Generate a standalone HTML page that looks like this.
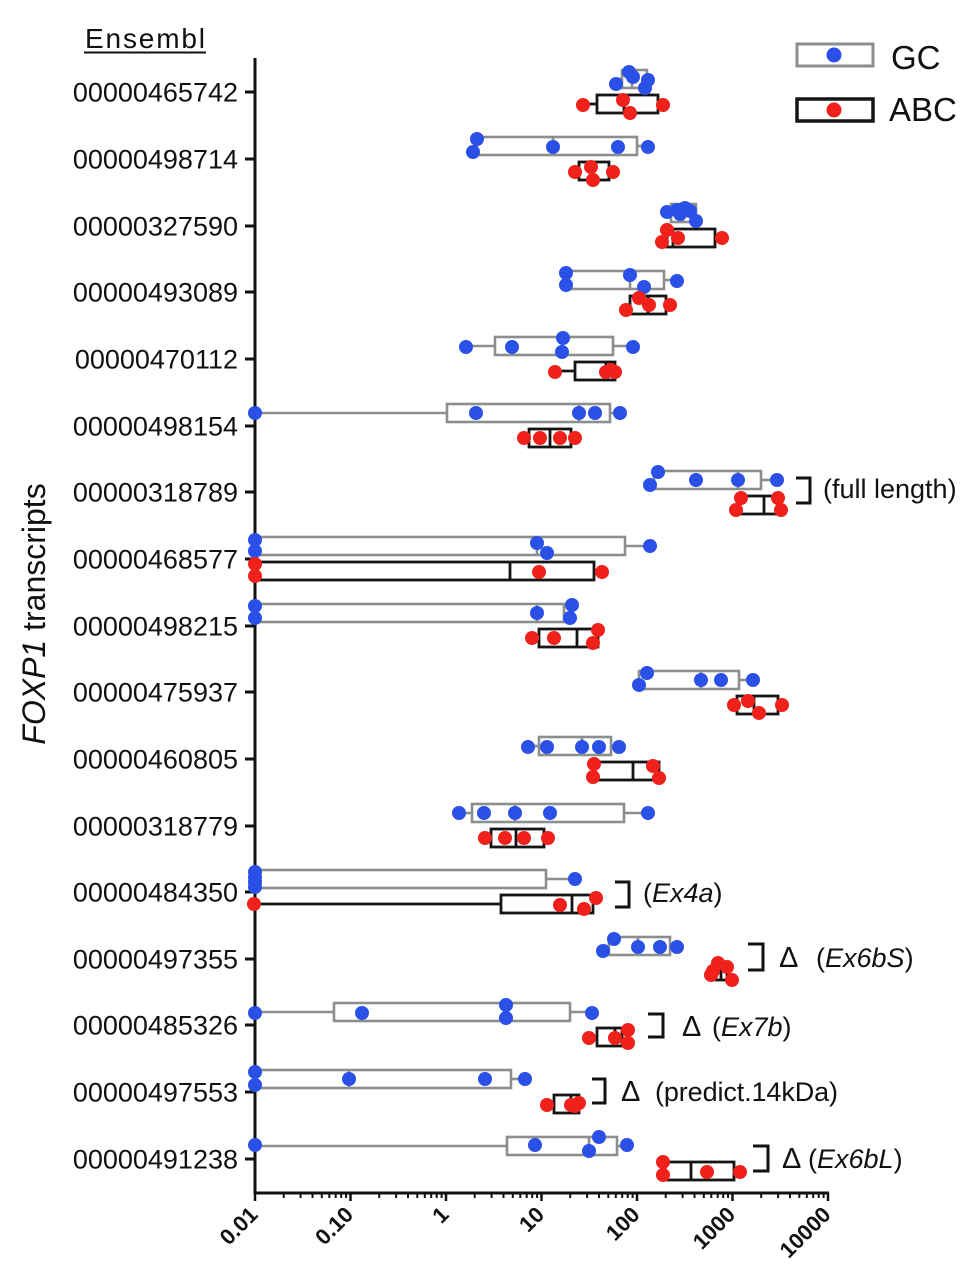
<!DOCTYPE html>
<html><head><meta charset="utf-8"><style>
html,body{margin:0;padding:0;background:#fff;}
svg{display:block;}
text{font-family:"Liberation Sans",Arial,sans-serif;}
</style></head><body>
<svg width="974" height="1280" viewBox="0 0 974 1280" xmlns="http://www.w3.org/2000/svg">
<rect width="974" height="1280" fill="#fff"/>

<!-- header -->
<text x="145" y="48" font-size="28" text-anchor="middle" textLength="120" fill="#111">Ensembl</text>
<line x1="84" y1="52.5" x2="206" y2="52.5" stroke="#111" stroke-width="2"/>

<!-- y title -->
<text transform="translate(45,614) rotate(-90)" font-size="32" text-anchor="middle" fill="#111"><tspan font-style="italic">FOXP1</tspan> transcripts</text>

<!-- axes -->
<g stroke="#111" stroke-width="3" fill="none">
<line x1="255" y1="58" x2="255" y2="1194"/>
<line x1="254" y1="1193" x2="829" y2="1193"/>
</g>

<!-- x ticks -->
<g stroke="#111" stroke-width="2.5">
<line x1="255" y1="1193" x2="255" y2="1201"/>
<line x1="350.5" y1="1193" x2="350.5" y2="1201"/>
<line x1="446" y1="1193" x2="446" y2="1201"/>
<line x1="541.5" y1="1193" x2="541.5" y2="1201"/>
<line x1="637" y1="1193" x2="637" y2="1201"/>
<line x1="732.5" y1="1193" x2="732.5" y2="1201"/>
<line x1="828" y1="1193" x2="828" y2="1201"/>
</g>
<g stroke="#111" stroke-width="2">
<line x1="283.7" y1="1193" x2="283.7" y2="1198"/><line x1="300.6" y1="1193" x2="300.6" y2="1198"/><line x1="312.5" y1="1193" x2="312.5" y2="1198"/><line x1="321.8" y1="1193" x2="321.8" y2="1198"/><line x1="329.3" y1="1193" x2="329.3" y2="1198"/><line x1="335.7" y1="1193" x2="335.7" y2="1198"/><line x1="341.2" y1="1193" x2="341.2" y2="1198"/><line x1="346.1" y1="1193" x2="346.1" y2="1198"/>
<line x1="379.2" y1="1193" x2="379.2" y2="1198"/><line x1="396.1" y1="1193" x2="396.1" y2="1198"/><line x1="408" y1="1193" x2="408" y2="1198"/><line x1="417.3" y1="1193" x2="417.3" y2="1198"/><line x1="424.8" y1="1193" x2="424.8" y2="1198"/><line x1="431.2" y1="1193" x2="431.2" y2="1198"/><line x1="436.7" y1="1193" x2="436.7" y2="1198"/><line x1="441.6" y1="1193" x2="441.6" y2="1198"/>
<line x1="474.7" y1="1193" x2="474.7" y2="1198"/><line x1="491.6" y1="1193" x2="491.6" y2="1198"/><line x1="503.5" y1="1193" x2="503.5" y2="1198"/><line x1="512.8" y1="1193" x2="512.8" y2="1198"/><line x1="520.3" y1="1193" x2="520.3" y2="1198"/><line x1="526.7" y1="1193" x2="526.7" y2="1198"/><line x1="532.2" y1="1193" x2="532.2" y2="1198"/><line x1="537.1" y1="1193" x2="537.1" y2="1198"/>
<line x1="570.2" y1="1193" x2="570.2" y2="1198"/><line x1="587.1" y1="1193" x2="587.1" y2="1198"/><line x1="599" y1="1193" x2="599" y2="1198"/><line x1="608.3" y1="1193" x2="608.3" y2="1198"/><line x1="615.8" y1="1193" x2="615.8" y2="1198"/><line x1="622.2" y1="1193" x2="622.2" y2="1198"/><line x1="627.7" y1="1193" x2="627.7" y2="1198"/><line x1="632.6" y1="1193" x2="632.6" y2="1198"/>
<line x1="665.7" y1="1193" x2="665.7" y2="1198"/><line x1="682.6" y1="1193" x2="682.6" y2="1198"/><line x1="694.5" y1="1193" x2="694.5" y2="1198"/><line x1="703.8" y1="1193" x2="703.8" y2="1198"/><line x1="711.3" y1="1193" x2="711.3" y2="1198"/><line x1="717.7" y1="1193" x2="717.7" y2="1198"/><line x1="723.2" y1="1193" x2="723.2" y2="1198"/><line x1="728.1" y1="1193" x2="728.1" y2="1198"/>
<line x1="761.2" y1="1193" x2="761.2" y2="1198"/><line x1="778.1" y1="1193" x2="778.1" y2="1198"/><line x1="790" y1="1193" x2="790" y2="1198"/><line x1="799.3" y1="1193" x2="799.3" y2="1198"/><line x1="806.8" y1="1193" x2="806.8" y2="1198"/><line x1="813.2" y1="1193" x2="813.2" y2="1198"/><line x1="818.7" y1="1193" x2="818.7" y2="1198"/><line x1="823.6" y1="1193" x2="823.6" y2="1198"/>
</g>

<!-- x tick labels -->
<g font-size="22" font-weight="bold" fill="#111" text-anchor="end">
<text transform="translate(259,1216) rotate(-45)">0.01</text>
<text transform="translate(354.5,1216) rotate(-45)">0.10</text>
<text transform="translate(450,1216) rotate(-45)">1</text>
<text transform="translate(545.5,1216) rotate(-45)">10</text>
<text transform="translate(641,1216) rotate(-45)">100</text>
<text transform="translate(736.5,1216) rotate(-45)">1000</text>
<text transform="translate(832,1216) rotate(-45)">10000</text>
</g>

<!-- y ticks and labels -->
<g stroke="#111" stroke-width="3">
<line x1="245" y1="92" x2="255" y2="92"/><line x1="245" y1="159" x2="255" y2="159"/><line x1="245" y1="226" x2="255" y2="226"/><line x1="245" y1="292" x2="255" y2="292"/><line x1="245" y1="359" x2="255" y2="359"/><line x1="245" y1="426" x2="255" y2="426"/><line x1="245" y1="492" x2="255" y2="492"/><line x1="245" y1="559" x2="255" y2="559"/><line x1="245" y1="626" x2="255" y2="626"/><line x1="245" y1="692" x2="255" y2="692"/><line x1="245" y1="759" x2="255" y2="759"/><line x1="245" y1="826" x2="255" y2="826"/><line x1="245" y1="892" x2="255" y2="892"/><line x1="245" y1="959" x2="255" y2="959"/><line x1="245" y1="1025" x2="255" y2="1025"/><line x1="245" y1="1092" x2="255" y2="1092"/><line x1="245" y1="1159" x2="255" y2="1159"/>
</g>
<g font-size="27" fill="#111" text-anchor="end">
<text x="238" y="101.5">00000465742</text>
<text x="238" y="168.5">00000498714</text>
<text x="238" y="235.5">00000327590</text>
<text x="238" y="301.5">00000493089</text>
<text x="238" y="368.5">00000470112</text>
<text x="238" y="435.5">00000498154</text>
<text x="238" y="501.5">00000318789</text>
<text x="238" y="568.5">00000468577</text>
<text x="238" y="635.5">00000498215</text>
<text x="238" y="701.5">00000475937</text>
<text x="238" y="768.5">00000460805</text>
<text x="238" y="835.5">00000318779</text>
<text x="238" y="901.5">00000484350</text>
<text x="238" y="968.5">00000497355</text>
<text x="238" y="1034.5">00000485326</text>
<text x="238" y="1101.5">00000497553</text>
<text x="238" y="1168.5">00000491238</text>
</g>

<!-- GC boxes (gray) -->
<g stroke="#8a8e8e" stroke-width="2.6" fill="none">
<rect x="622" y="70" width="25" height="18"/><line x1="632" y1="70" x2="632" y2="88"/><line x1="616" y1="79" x2="622" y2="79"/>
<rect x="477" y="137" width="160" height="18"/><line x1="553" y1="137" x2="553" y2="155"/><line x1="637" y1="146" x2="648" y2="146"/>
<rect x="671" y="204" width="25" height="18"/><line x1="683" y1="204" x2="683" y2="222"/><line x1="667" y1="213" x2="671" y2="213"/>
<rect x="566" y="271" width="98" height="18"/><line x1="630" y1="271" x2="630" y2="289"/><line x1="664" y1="280" x2="677" y2="280"/>
<rect x="495" y="337" width="118" height="18"/><line x1="562" y1="337" x2="562" y2="355"/><line x1="466" y1="346" x2="495" y2="346"/><line x1="613" y1="346" x2="633" y2="346"/>
<rect x="447" y="404" width="163" height="18"/><line x1="579" y1="404" x2="579" y2="422"/><line x1="255" y1="413" x2="447" y2="413"/><line x1="610" y1="413" x2="620" y2="413"/>
<rect x="654" y="471" width="107" height="18"/><line x1="738" y1="471" x2="738" y2="489"/><line x1="650" y1="480" x2="654" y2="480"/><line x1="761" y1="480" x2="777" y2="480"/>
<rect x="255" y="537" width="370" height="18"/><line x1="537" y1="537" x2="537" y2="555"/><line x1="625" y1="546" x2="650" y2="546"/>
<rect x="255" y="604" width="309" height="18"/><line x1="537" y1="604" x2="537" y2="622"/><line x1="564" y1="613" x2="572" y2="613"/>
<rect x="639" y="671" width="100" height="18"/><line x1="701" y1="671" x2="701" y2="689"/><line x1="739" y1="680" x2="753" y2="680"/>
<rect x="539" y="737" width="72" height="18"/><line x1="582" y1="737" x2="582" y2="755"/><line x1="528" y1="746" x2="539" y2="746"/><line x1="611" y1="746" x2="619" y2="746"/>
<rect x="472" y="804" width="152" height="18"/><line x1="515" y1="804" x2="515" y2="822"/><line x1="459" y1="813" x2="472" y2="813"/><line x1="624" y1="813" x2="648" y2="813"/>
<rect x="255" y="870" width="291" height="18"/><line x1="546" y1="879" x2="575" y2="879"/>
<rect x="609" y="937" width="61" height="18"/><line x1="638" y1="937" x2="638" y2="955"/><line x1="603" y1="946" x2="609" y2="946"/><line x1="670" y1="946" x2="677" y2="946"/>
<rect x="334" y="1003" width="236" height="18"/><line x1="506" y1="1003" x2="506" y2="1021"/><line x1="255" y1="1012" x2="334" y2="1012"/><line x1="570" y1="1012" x2="592" y2="1012"/>
<rect x="255" y="1070" width="256" height="18"/><line x1="349" y1="1070" x2="349" y2="1088"/><line x1="511" y1="1079" x2="525" y2="1079"/>
<rect x="507" y="1137" width="110" height="18"/><line x1="589" y1="1137" x2="589" y2="1155"/><line x1="255" y1="1146" x2="507" y2="1146"/><line x1="617" y1="1146" x2="627" y2="1146"/>
</g>

<!-- ABC boxes (black) -->
<g stroke="#151515" stroke-width="2.8" fill="none">
<rect x="597" y="95" width="61" height="18"/><line x1="624" y1="95" x2="624" y2="113"/><line x1="583" y1="104" x2="597" y2="104"/><line x1="658" y1="104" x2="663" y2="104"/>
<rect x="579" y="162" width="30" height="18"/><line x1="592" y1="162" x2="592" y2="180"/>
<rect x="667" y="229" width="48" height="18"/><line x1="673" y1="229" x2="673" y2="247"/><line x1="715" y1="238" x2="722" y2="238"/>
<rect x="630" y="296" width="36" height="18"/><line x1="648" y1="296" x2="648" y2="314"/>
<rect x="575" y="362" width="40" height="18"/><line x1="606" y1="362" x2="606" y2="380"/><line x1="555" y1="371" x2="575" y2="371"/>
<rect x="529" y="429" width="42" height="18"/><line x1="550" y1="429" x2="550" y2="447"/>
<rect x="740" y="496" width="40" height="18"/><line x1="764" y1="496" x2="764" y2="514"/>
<rect x="255" y="562" width="339" height="18"/><line x1="510" y1="562" x2="510" y2="580"/><line x1="594" y1="571" x2="602" y2="571"/>
<rect x="539" y="629" width="59" height="18"/><line x1="577" y1="629" x2="577" y2="647"/><line x1="532" y1="638" x2="539" y2="638"/>
<rect x="737" y="696" width="41" height="18"/><line x1="754" y1="696" x2="754" y2="714"/>
<rect x="595" y="762" width="64" height="18"/><line x1="633" y1="762" x2="633" y2="780"/>
<rect x="491" y="829" width="53" height="18"/><line x1="516" y1="829" x2="516" y2="847"/>
<rect x="501" y="895" width="92" height="18"/><line x1="572" y1="895" x2="572" y2="913"/><line x1="255" y1="904" x2="501" y2="904"/>
<rect x="716" y="962" width="11" height="18"/><line x1="721" y1="962" x2="721" y2="980"/>
<rect x="597" y="1028" width="25" height="18"/><line x1="615" y1="1028" x2="615" y2="1046"/><line x1="589" y1="1037" x2="597" y2="1037"/>
<rect x="554" y="1095" width="25" height="18"/><line x1="571" y1="1095" x2="571" y2="1113"/>
<rect x="665" y="1162" width="69" height="18"/><line x1="691" y1="1162" x2="691" y2="1180"/><line x1="734" y1="1171" x2="740" y2="1171"/>
</g>

<!-- GC dots -->
<g fill="#2b50e8">
<circle cx="616" cy="84" r="7"/><circle cx="629" cy="72" r="7"/><circle cx="633" cy="77" r="7"/><circle cx="648" cy="80" r="7"/><circle cx="645" cy="88" r="7"/>
<circle cx="477" cy="139" r="7"/><circle cx="473" cy="152" r="7"/><circle cx="553" cy="147" r="7"/><circle cx="618" cy="147" r="7"/><circle cx="648" cy="147" r="7"/>
<circle cx="667" cy="212" r="7"/><circle cx="677" cy="210" r="7"/><circle cx="685" cy="208" r="7"/><circle cx="690" cy="211" r="7"/><circle cx="696" cy="221" r="7"/><circle cx="680" cy="214" r="7"/>
<circle cx="566" cy="273" r="7"/><circle cx="566" cy="285" r="7"/><circle cx="630" cy="275" r="7"/><circle cx="644" cy="287" r="7"/><circle cx="677" cy="281" r="7"/>
<circle cx="466" cy="347" r="7"/><circle cx="512" cy="347" r="7"/><circle cx="563" cy="338" r="7"/><circle cx="562" cy="352" r="7"/><circle cx="633" cy="347" r="7"/>
<circle cx="255" cy="413" r="7"/><circle cx="476" cy="413" r="7"/><circle cx="579" cy="413" r="7"/><circle cx="595" cy="413" r="7"/><circle cx="620" cy="413" r="7"/>
<circle cx="658" cy="472" r="7"/><circle cx="650" cy="485" r="7"/><circle cx="696" cy="480" r="7"/><circle cx="738" cy="480" r="7"/><circle cx="777" cy="480" r="7"/>
<circle cx="255" cy="540" r="7"/><circle cx="255" cy="551" r="7"/><circle cx="537" cy="543" r="7"/><circle cx="547" cy="553" r="7"/><circle cx="650" cy="546" r="7"/>
<circle cx="255" cy="606" r="7"/><circle cx="255" cy="618" r="7"/><circle cx="537" cy="613" r="7"/><circle cx="572" cy="605" r="7"/><circle cx="570" cy="618" r="7"/>
<circle cx="647" cy="673" r="7"/><circle cx="639" cy="685" r="7"/><circle cx="701" cy="680" r="7"/><circle cx="721" cy="680" r="7"/><circle cx="753" cy="680" r="7"/>
<circle cx="528" cy="747" r="7"/><circle cx="547" cy="747" r="7"/><circle cx="582" cy="747" r="7"/><circle cx="599" cy="747" r="7"/><circle cx="619" cy="747" r="7"/>
<circle cx="459" cy="813" r="7"/><circle cx="484" cy="813" r="7"/><circle cx="515" cy="813" r="7"/><circle cx="550" cy="813" r="7"/><circle cx="648" cy="813" r="7"/>
<circle cx="255" cy="872" r="7"/><circle cx="255" cy="877" r="7"/><circle cx="255" cy="882" r="7"/><circle cx="255" cy="887" r="7"/><circle cx="575" cy="879" r="7"/>
<circle cx="614" cy="939" r="7"/><circle cx="603" cy="951" r="7"/><circle cx="638" cy="947" r="7"/><circle cx="660" cy="947" r="7"/><circle cx="677" cy="947" r="7"/>
<circle cx="255" cy="1013" r="7"/><circle cx="362" cy="1013" r="7"/><circle cx="506" cy="1005" r="7"/><circle cx="506" cy="1018" r="7"/><circle cx="592" cy="1013" r="7"/>
<circle cx="255" cy="1072" r="7"/><circle cx="255" cy="1085" r="7"/><circle cx="349" cy="1079" r="7"/><circle cx="485" cy="1079" r="7"/><circle cx="525" cy="1079" r="7"/>
<circle cx="255" cy="1145" r="7"/><circle cx="535" cy="1145" r="7"/><circle cx="599" cy="1137" r="7"/><circle cx="589" cy="1151" r="7"/><circle cx="627" cy="1145" r="7"/>
</g>

<!-- ABC dots -->
<g fill="#f0201a">
<circle cx="583" cy="105" r="7"/><circle cx="623" cy="100" r="7"/><circle cx="630" cy="113" r="7"/><circle cx="663" cy="105" r="7"/>
<circle cx="575" cy="172" r="7"/><circle cx="591" cy="167" r="7"/><circle cx="593" cy="180" r="7"/><circle cx="613" cy="172" r="7"/>
<circle cx="667" cy="230" r="7"/><circle cx="662" cy="242" r="7"/><circle cx="678" cy="238" r="7"/><circle cx="722" cy="238" r="7"/>
<circle cx="639" cy="298" r="7"/><circle cx="626" cy="310" r="7"/><circle cx="649" cy="305" r="7"/><circle cx="670" cy="305" r="7"/>
<circle cx="555" cy="372" r="7"/><circle cx="606" cy="372" r="7"/><circle cx="611" cy="370" r="7"/><circle cx="615" cy="372" r="7"/>
<circle cx="524" cy="438" r="7"/><circle cx="540" cy="438" r="7"/><circle cx="560" cy="438" r="7"/><circle cx="575" cy="438" r="7"/>
<circle cx="741" cy="498" r="7"/><circle cx="736" cy="510" r="7"/><circle cx="778" cy="498" r="7"/><circle cx="781" cy="510" r="7"/>
<circle cx="255" cy="564" r="7"/><circle cx="255" cy="576" r="7"/><circle cx="539" cy="572" r="7"/><circle cx="602" cy="572" r="7"/>
<circle cx="532" cy="638" r="7"/><circle cx="554" cy="638" r="7"/><circle cx="598" cy="630" r="7"/><circle cx="593" cy="643" r="7"/>
<circle cx="734" cy="705" r="7"/><circle cx="748" cy="701" r="7"/><circle cx="759" cy="713" r="7"/><circle cx="782" cy="705" r="7"/>
<circle cx="594" cy="764" r="7"/><circle cx="593" cy="777" r="7"/><circle cx="653" cy="766" r="7"/><circle cx="659" cy="778" r="7"/>
<circle cx="485" cy="838" r="7"/><circle cx="505" cy="838" r="7"/><circle cx="524" cy="838" r="7"/><circle cx="548" cy="838" r="7"/>
<circle cx="254" cy="904" r="7"/><circle cx="560" cy="905" r="7"/><circle cx="584" cy="909" r="7"/><circle cx="596" cy="898" r="7"/>
<circle cx="711" cy="975" r="7"/><circle cx="718" cy="963" r="7"/><circle cx="727" cy="967" r="7"/><circle cx="732" cy="980" r="7"/><circle cx="713" cy="971" r="7"/>
<circle cx="589" cy="1038" r="7"/><circle cx="615" cy="1038" r="7"/><circle cx="628" cy="1030" r="7"/><circle cx="628" cy="1043" r="7"/>
<circle cx="547" cy="1105" r="7"/><circle cx="571" cy="1105" r="7"/><circle cx="579" cy="1103" r="7"/><circle cx="575" cy="1106" r="7"/>
<circle cx="663" cy="1162" r="7"/><circle cx="663" cy="1175" r="7"/><circle cx="707" cy="1172" r="7"/><circle cx="740" cy="1172" r="7"/>
</g>

<!-- brackets -->
<g stroke="#111" stroke-width="3" fill="none">
<polyline points="796,478 810,478 810,503 796,503"/>
<polyline points="615,882 629,882 629,907 615,907"/>
<polyline points="748,944 763,944 763,970 748,970"/>
<polyline points="648,1014 663,1014 663,1037 648,1037"/>
<polyline points="592,1079 605,1079 605,1103 592,1103"/>
<polyline points="753,1146 768,1146 768,1171 753,1171"/>
</g>

<!-- annotations -->
<g font-size="27" fill="#111">
<text x="823" y="498">(full length)</text>
<text x="643" y="902">(<tspan font-style="italic">Ex4a</tspan>)</text>
<text x="779" y="967" font-family="Liberation Serif, serif" font-size="29">Δ</text>
<text x="816" y="967">(<tspan font-style="italic">Ex6bS</tspan>)</text>
<text x="682" y="1036" font-family="Liberation Serif, serif" font-size="29">Δ</text>
<text x="712" y="1036">(<tspan font-style="italic">Ex7b</tspan>)</text>
<text x="621" y="1101" font-family="Liberation Serif, serif" font-size="29">Δ</text>
<text x="655" y="1101" textLength="183">(predict.14kDa)</text>
<text x="782" y="1168" font-family="Liberation Serif, serif" font-size="29">Δ</text>
<text x="808" y="1168">(<tspan font-style="italic">Ex6bL</tspan>)</text>
</g>

<!-- legend -->
<rect x="797" y="44" width="76" height="22" fill="none" stroke="#8a8e8e" stroke-width="3"/>
<circle cx="834" cy="55" r="7.5" fill="#2b50e8"/>
<text x="891" y="69" font-size="33" fill="#111">GC</text>
<rect x="797" y="99" width="76" height="22" fill="none" stroke="#151515" stroke-width="3.5"/>
<circle cx="834" cy="110" r="7.5" fill="#f0201a"/>
<text x="889" y="121" font-size="33" fill="#111">ABC</text>
</svg>
</body></html>
